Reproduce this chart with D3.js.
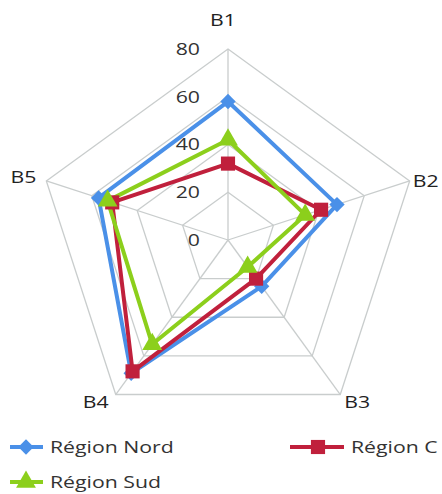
<!DOCTYPE html>
<html><head><meta charset="utf-8">
<script src="https://cdn.jsdelivr.net/npm/d3@7"></script>
<style>body{margin:0;background:#fff;}svg{display:block;font-family:"Open Sans","DejaVu Sans",sans-serif;}</style>
</head><body><svg id="c" width="442" height="494"></svg>
<script>
const categories = ["B1","B2","B3","B4","B5"];
const ticks = [0,20,40,60,80];
const seriesNames = ["Région Nord","Région C","Région Sud"];
const nord = [58,48,24,69,57];
const centre = [32,41,20,68,51];
const sud = [42,34,14,54,53];
const colors = ["#4a90e8","#c0203c","#8ccf1c"];

const svg = d3.select("#c");
const cx = 228, cy = 240, R = 191;
const SX = 1.25, FS = 17;
const r = d3.scaleLinear().domain([0,80]).range([0,R]);
const ang = d3.scaleBand().domain(categories).range([0,2*Math.PI]);
const a = c => ang(c) - Math.PI/2;
const pt = (c,v) => [cx + r(v)*Math.cos(a(c)), cy + r(v)*Math.sin(a(c))];

function txt(sel, x, y, s, anchor, fill){
  return sel.append("text").attr("transform",`translate(${x},${y}) scale(${SX},1)`)
    .attr("dy","0.35em").attr("text-anchor",anchor).attr("font-size",FS)
    .attr("fill",fill).text(s);
}

const g = svg.append("g");
ticks.filter(t=>t>0).forEach(t=>{
  g.append("polygon").attr("points", categories.map(c=>pt(c,t).join(",")).join(" "))
   .attr("fill","none").attr("stroke","#c9cdcd").attr("stroke-width",1.3);
});
categories.forEach(c=>{
  const [x,y]=pt(c,80);
  g.append("line").attr("x1",cx).attr("y1",cy).attr("x2",x).attr("y2",y)
   .attr("stroke","#c9cdcd").attr("stroke-width",1.3);
});
ticks.forEach(t=>{ txt(g, cx-28, cy-r(t), t, "end", "#333"); });
const labOff = {B1:[-5,-29],B2:[16,0],B3:[17,8],B4:[-20,8],B5:[-23,-4]};
categories.forEach(c=>{
  const [x,y]=pt(c,80);
  const o=labOff[c];
  txt(g, x+o[0], y+o[1], c, "middle", "#222");
});

const data=[nord,centre,sud];
const line = d3.line();
const symbols=[d3.symbolDiamond2, d3.symbolSquare, d3.symbolTriangle];
const sizes=[150,200,170];
data.forEach((vals,i)=>{
  const pts = categories.map((c,j)=>pt(c,vals[j]));
  g.append("path").attr("d", line(pts)+"Z").attr("fill","none")
   .attr("stroke",colors[i]).attr("stroke-width",4).attr("stroke-linejoin","round");
});
data.forEach((vals,i)=>{
  categories.forEach((c,j)=>{
    const [x,y]=pt(c,vals[j]);
    g.append("path").attr("d",d3.symbol().type(symbols[i]).size(sizes[i])())
     .attr("transform",`translate(${x},${y})`).attr("fill",colors[i]);
  });
});

const leg=[{x:10,y:447,w:33,m:16},{x:290,y:447,w:54,m:28},{x:10,y:482,w:33,m:16}];
seriesNames.forEach((n,i)=>{
  const L=leg[i];
  svg.append("line").attr("x1",L.x).attr("x2",L.x+L.w).attr("y1",L.y).attr("y2",L.y)
   .attr("stroke",colors[i]).attr("stroke-width",4);
  svg.append("path").attr("d",d3.symbol().type(symbols[i]).size(sizes[i])())
   .attr("transform",`translate(${L.x+L.m},${L.y})`).attr("fill",colors[i]);
  txt(svg, L.x+L.w+7, L.y, n, "start", "#333");
});
</script></body></html>
